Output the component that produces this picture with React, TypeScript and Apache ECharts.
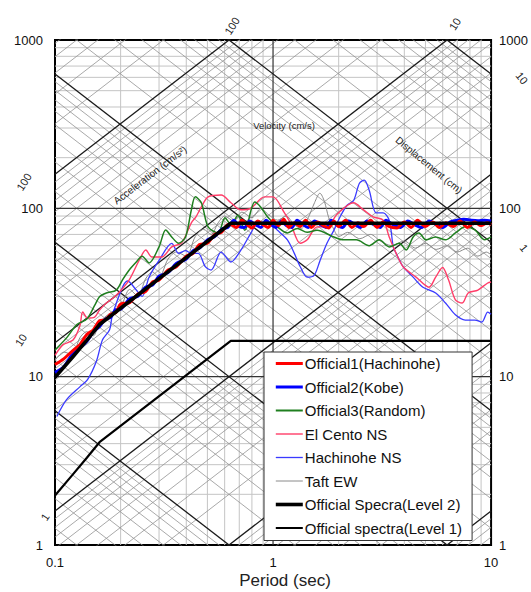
import React, { useEffect, useRef } from "react";
import * as echarts from "echarts";

const FONT = "'Liberation Sans', Arial, Helvetica, sans-serif";
const TWO_PI = 2 * Math.PI;

// axis ticks
const periodTicks = [0.1, 1, 10];
const velocityTicks = [1, 10, 100, 1000];
const minorPeriods = [0.2, 0.3, 0.4, 0.5, 0.6, 0.7, 0.8, 0.9, 2, 3, 4, 5, 6, 7, 8, 9];
const majorPeriods = [1];
const minorVelocities = [2, 3, 4, 5, 6, 7, 8, 9, 20, 30, 40, 50, 60, 70, 80, 90, 200, 300, 400, 500, 600, 700, 800, 900];
const majorVelocities = [10, 100];
// tripartite grid (cm/s2 and cm)
const majorAccel = [1, 10, 100, 1000, 10000];
const majorDisp = [0.1, 1, 10, 100, 1000];
const gridDecades = [0.001, 0.01, 0.1, 1, 10, 100, 1000, 10000];
const minorMultipliers = [2, 3, 4, 5, 6, 7, 8, 9];

// series [period (s), pseudo velocity (cm/s)]
const level2: number[][] = [[0.1, 9.9], [0.12, 13.0], [0.14, 16.5], [0.16, 20.4], [0.64, 81.5], [10, 81.5]];
const level1: number[][] = [[0.1, 1.97], [0.12, 2.6], [0.14, 3.3], [0.16, 4.08], [0.64, 16.3], [10, 16.3]];

const official1: number[][] = [
  [0.1, 11.8], [0.11, 12.8], [0.12, 14.2], [0.13, 15.5], [0.14, 17.8], [0.15, 19], [0.16, 21.5], [0.17, 21.8],
  [0.18, 23.5], [0.19, 24], [0.2, 27], [0.22, 27.5], [0.24, 31], [0.26, 32], [0.28, 36.5], [0.3, 37.5],
  [0.33, 43], [0.36, 45], [0.4, 52], [0.43, 54], [0.46, 61], [0.5, 62], [0.54, 70], [0.58, 72], [0.62, 80],
  [0.64, 80], [0.68, 77], [0.72, 85], [0.76, 80], [0.8, 76.5], [0.85, 84], [0.9, 80], [0.95, 77], [1.0, 85],
  [1.06, 79], [1.12, 86], [1.18, 77], [1.25, 82], [1.33, 78], [1.41, 85], [1.5, 77], [1.6, 83], [1.7, 79],
  [1.8, 76.5], [1.9, 84], [2.0, 78], [2.15, 85], [2.3, 77], [2.45, 82], [2.6, 78], [2.8, 85], [3.0, 77],
  [3.2, 83], [3.4, 78], [3.7, 76.5], [4.0, 83], [4.3, 77], [4.6, 85], [5.0, 78], [5.4, 83], [5.8, 77],
  [6.2, 82], [6.7, 78], [7.2, 84], [7.8, 77], [8.4, 83], [9.0, 79], [9.6, 82], [10, 80]
];
const official2: number[][] = [
  [0.1, 10.6], [0.11, 11.5], [0.12, 13.6], [0.13, 14.8], [0.14, 16.2], [0.15, 18.5], [0.16, 19.8], [0.17, 22],
  [0.18, 22.5], [0.19, 25], [0.2, 25.2], [0.22, 29], [0.24, 30], [0.26, 34], [0.28, 35], [0.3, 39.5],
  [0.33, 41.5], [0.36, 47], [0.4, 50], [0.43, 56], [0.46, 58], [0.5, 65], [0.54, 68], [0.58, 75], [0.62, 77],
  [0.64, 81], [0.66, 85], [0.7, 78], [0.74, 77], [0.78, 84], [0.83, 80], [0.88, 77], [0.93, 85], [0.98, 80],
  [1.03, 77], [1.09, 84], [1.15, 79], [1.22, 77], [1.29, 85], [1.37, 80], [1.45, 77], [1.55, 84], [1.65, 80],
  [1.75, 77], [1.85, 85], [1.95, 80], [2.08, 77], [2.22, 84], [2.38, 80], [2.52, 77], [2.7, 84], [2.9, 80],
  [3.1, 77], [3.3, 85], [3.55, 80], [3.85, 77], [4.15, 84], [4.45, 80], [4.8, 77], [5.2, 84], [5.6, 80],
  [6.0, 77], [6.5, 83], [7.0, 85], [7.5, 86], [8.1, 85], [8.7, 84.5], [9.3, 85], [10, 84]
];
const official3: number[][] = [
  [0.1, 14.4], [0.113, 17], [0.126, 20.4], [0.14, 22], [0.152, 26.5], [0.16, 29.8], [0.172, 31.4],
  [0.191, 32.7], [0.204, 37.6], [0.219, 43], [0.236, 48], [0.251, 52], [0.27, 47.4], [0.3, 59],
  [0.322, 74.4], [0.343, 67.6], [0.369, 62], [0.397, 67.6], [0.422, 97.8], [0.44, 117], [0.469, 108],
  [0.504, 77.6], [0.56, 71.4], [0.602, 88], [0.641, 80], [0.69, 91], [0.742, 74], [0.824, 109],
  [0.877, 102], [0.943, 89], [1.048, 77.6], [1.164, 71.4], [1.292, 76], [1.434, 72], [1.592, 74],
  [1.9, 67.6], [2.11, 65], [2.41, 65], [2.76, 60], [3.07, 65], [3.41, 59], [3.79, 62], [4.08, 56.6],
  [4.39, 67.6], [4.67, 71.4], [5.03, 65], [5.57, 67.6], [6.18, 65], [6.86, 71.4], [7.61, 77.6],
  [8.43, 74.4], [9.35, 65], [10, 67.6]
];
const elCentroNS: number[][] = [
  [0.1, 13.4], [0.109, 15.5], [0.121, 16.5], [0.13, 20], [0.134, 24.2], [0.141, 22.3], [0.152, 22.6],
  [0.16, 24.9], [0.172, 27.4], [0.183, 29], [0.197, 31.7], [0.219, 37.6], [0.243, 49], [0.261, 56.6],
  [0.278, 51.4], [0.309, 51.4], [0.343, 59], [0.381, 62.3], [0.422, 82], [0.443, 89], [0.469, 102],
  [0.504, 117], [0.578, 120], [0.641, 108], [0.712, 98], [0.79, 100], [0.914, 117], [1.0, 117],
  [1.128, 94], [1.201, 82], [1.333, 62], [1.434, 65], [1.592, 77.6], [1.767, 77.6], [1.962, 92],
  [2.34, 108], [2.6, 98], [2.88, 89], [3.2, 85], [3.41, 67.6], [3.67, 54], [3.95, 45], [4.53, 39],
  [5.19, 34], [5.57, 39], [5.99, 44.5], [6.38, 37.6], [6.86, 28.6], [7.37, 27.4], [7.85, 31.4],
  [8.7, 32.7], [9.65, 36], [10, 36.5]
];
const hachinoheNS: number[][] = [
  [0.102, 5.8], [0.113, 7.3], [0.13, 8.7], [0.141, 9.6], [0.155, 12.4], [0.165, 16.5], [0.178, 19],
  [0.183, 23], [0.204, 34], [0.215, 37], [0.236, 32.7], [0.251, 30], [0.27, 39], [0.3, 49], [0.343, 62],
  [0.369, 54], [0.397, 56], [0.422, 54], [0.454, 54], [0.489, 45], [0.52, 43], [0.578, 55], [0.641, 48],
  [0.712, 56.5], [0.79, 71], [0.85, 82], [0.943, 83], [1.048, 74], [1.164, 65], [1.252, 54], [1.333, 45],
  [1.434, 39], [1.543, 40], [1.643, 49], [1.767, 62], [1.9, 74], [2.02, 88], [2.18, 104], [2.34, 111],
  [2.49, 141], [2.62, 147], [2.76, 128], [2.97, 94], [3.2, 94], [3.41, 85], [3.56, 59], [3.67, 54],
  [3.95, 45], [4.39, 39], [4.87, 34], [5.57, 31.4], [6.18, 27.4], [6.86, 23.3], [7.61, 21.7], [8.43, 21.7],
  [9.07, 21.1], [9.65, 24.2], [10, 23.5]
];
const taftEW: number[][] = [
  [0.1, 12.5], [0.11, 14], [0.12, 13.5], [0.13, 17], [0.14, 18.5], [0.15, 17.5], [0.16, 21], [0.18, 24],
  [0.2, 26], [0.22, 33], [0.24, 30], [0.26, 38], [0.28, 42], [0.3, 39], [0.33, 50], [0.36, 55], [0.4, 52],
  [0.44, 68], [0.48, 75], [0.52, 70], [0.56, 82], [0.6, 90], [0.66, 84], [0.72, 95], [0.8, 88], [0.88, 100],
  [0.95, 92], [1.05, 85], [1.15, 90], [1.25, 80], [1.35, 76], [1.45, 88], [1.55, 108], [1.64, 123],
  [1.72, 110], [1.8, 88], [1.9, 75], [2.0, 68], [2.2, 72], [2.5, 66], [2.8, 70], [3.1, 64], [3.5, 60],
  [4.0, 64], [4.5, 58], [5.0, 62], [5.6, 57], [6.3, 60], [7.0, 55], [7.8, 58], [8.7, 52], [9.5, 55], [10, 53]
];

const legendNames = [
  "Official1(Hachinohe)", "Official2(Kobe)", "Official3(Random)", "El Cento NS",
  "Hachinohe NS", "Taft EW", "Official Specra(Level 2)", "Official spectra(Level 1)"
];

function gridLine(data: number[][], color: string, width: number, z: number) {
  return {
    type: "line", data, symbol: "none", silent: true, clip: true, z,
    lineStyle: { color, width }, emphasis: { disabled: true }, tooltip: { show: false }
  };
}
function accelLine(a: number) { return [[0.1, (a * 0.1) / TWO_PI], [10, (a * 10) / TWO_PI]]; }
function dispLine(d: number) { return [[0.1, (TWO_PI * d) / 0.1], [10, (TWO_PI * d) / 10]]; }

export default function App() {
  const ref = useRef<HTMLDivElement>(null);
  useEffect(() => {
    document.body.style.margin = "0";
    const chart = echarts.init(ref.current!, null, { renderer: "svg" });
    const series: any[] = [];
    minorPeriods.forEach((t) => series.push(gridLine([[t, 1], [t, 1000]], "#c4c4c4", 1, 1)));
    minorVelocities.forEach((v) => series.push(gridLine([[0.1, v], [10, v]], "#c4c4c4", 1, 1)));
    gridDecades.forEach((dec) => minorMultipliers.forEach((m) => {
      series.push(gridLine(accelLine(dec * m), "#939393", 0.8, 2));
      series.push(gridLine(dispLine(dec * m), "#939393", 0.8, 2));
    }));
    majorPeriods.forEach((t) => series.push(gridLine([[t, 1], [t, 1000]], "#333", 1.2, 3)));
    majorVelocities.forEach((v) => series.push(gridLine([[0.1, v], [10, v]], "#333", 1.2, 3)));
    majorAccel.forEach((a) => series.push(gridLine(accelLine(a), "#1a1a1a", 1.3, 3)));
    majorDisp.forEach((d) => series.push(gridLine(dispLine(d), "#1a1a1a", 1.3, 3)));

    const dataSeries = (name: string, data: number[][], color: string, width: number, z: number) => ({
      name, type: "line", data, symbol: "none", clip: true, z, smooth: 0.3,
      lineStyle: { color, width }, itemStyle: { color }, emphasis: { disabled: true }
    });
    series.push(dataSeries("Taft EW", taftEW, "#8a8a8a", 1, 4));
    series.push(dataSeries("Hachinohe NS", hachinoheNS, "#3a3aff", 1.3, 5));
    series.push(dataSeries("El Cento NS", elCentroNS, "#ff3d68", 1.4, 6));
    series.push(dataSeries("Official3(Random)", official3, "#1f7f1f", 1.5, 7));
    series.push(dataSeries("Official2(Kobe)", official2, "#0000ff", 3, 8));
    series.push(dataSeries("Official1(Hachinohe)", official1, "#ff0000", 3, 9));
    series.push({ ...dataSeries("Official spectra(Level 1)", level1, "#000", 2.2, 10), smooth: false });
    series.push({ ...dataSeries("Official Specra(Level 2)", level2, "#000", 3.6, 11), smooth: false });

    const legendWidths: Record<string, number> = {
      "Official1(Hachinohe)": 3, "Official2(Kobe)": 3, "Official3(Random)": 2, "El Cento NS": 1.4,
      "Hachinohe NS": 1.3, "Taft EW": 1, "Official Specra(Level 2)": 3.6, "Official spectra(Level 1)": 2
    };

    const fmt = (v: number) => String(Number(v.toPrecision(3)));
    const txt = (text: string, x: number, y: number, size: number, rotation = 0) => ({
      type: "text", x, y, rotation, z: 100,
      style: { text, fontSize: size, fontFamily: FONT, fill: "#222", align: "center", verticalAlign: "middle" }
    });

    chart.setOption({
      animation: false,
      grid: { left: 55, right: 35, top: 40, bottom: 47, show: true, borderColor: "#000", borderWidth: 2, backgroundColor: "#fff" },
      xAxis: {
        type: "log", logBase: 10, min: periodTicks[0], max: periodTicks[periodTicks.length - 1],
        axisLine: { show: false }, axisTick: { show: false }, splitLine: { show: false },
        axisLabel: { formatter: fmt, fontSize: 13, fontFamily: FONT, color: "#111", margin: 11 }
      },
      yAxis: [
        {
          type: "log", logBase: 10, min: velocityTicks[0], max: velocityTicks[velocityTicks.length - 1],
          axisLine: { show: false }, axisTick: { show: false }, splitLine: { show: false },
          axisLabel: { formatter: fmt, fontSize: 13, fontFamily: FONT, color: "#111", margin: 12 }
        },
        {
          type: "log", logBase: 10, min: velocityTicks[0], max: velocityTicks[velocityTicks.length - 1], position: "right",
          axisLine: { show: false }, axisTick: { show: false }, splitLine: { show: false },
          axisLabel: { formatter: fmt, fontSize: 13, fontFamily: FONT, color: "#111", margin: 8 }
        }
      ],
      legend: {
        data: legendNames.map((n) => ({ name: n, lineStyle: { width: legendWidths[n] } })),
        orient: "vertical", left: 264, top: 352, itemWidth: 27, itemHeight: 14, itemGap: 8.5,
        padding: [4, 10, 5, 10], backgroundColor: "#fff", borderColor: "#333", borderWidth: 1,
        itemStyle: { opacity: 0 }, selectedMode: false,
        textStyle: { fontSize: 15, fontFamily: FONT, color: "#111", padding: [0, 0, 0, -3] }
      },
      series,
      graphic: [
        txt("Period (sec)", 285, 580, 17),
        txt("Velocity (cm/s)", 284, 125, 9.5),
        txt("Acceleration (cm/s\u00b2)", 150, 175, 10, 0.653),
        txt("Displacement (cm)", 429, 165, 10, -0.69),
        txt("100", 232, 26, 11, 1.0),
        txt("10", 455, 24, 11, 1.0),
        txt("100", 24, 182, 11, 1.0),
        txt("10", 21, 340, 11, 1.0),
        txt("1", 45, 517, 11, 1.0),
        txt("10", 522, 78, 11, -0.9),
        txt("1", 524, 248, 11, -0.9)
      ]
    });
    return () => chart.dispose();
  }, []);
  return <div ref={ref} style={{ width: 531, height: 592 }} />;
}
